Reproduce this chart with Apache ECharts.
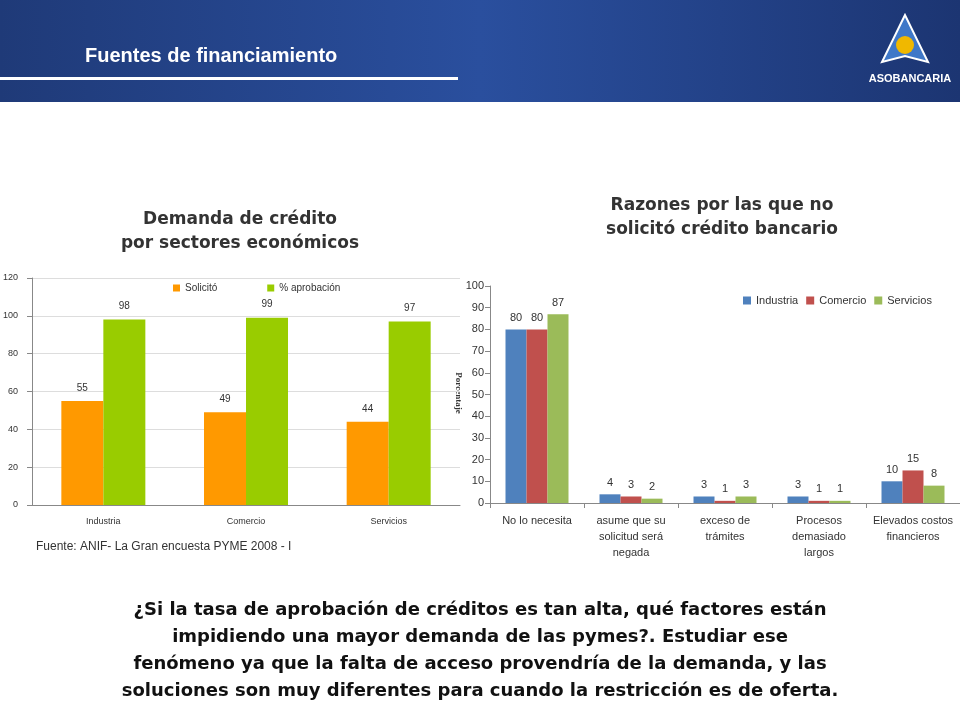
<html>
<head>
<meta charset="utf-8">
<script src="https://cdn.jsdelivr.net/npm/echarts@6/dist/echarts.min.js"></script>
<style>body{margin:0}</style>
</head>
<body>
<div id="main" style="width:960px;height:720px;"></div>
<script>
var sectores = ['Industria', 'Comercio', 'Servicios'];
var solicito = [55, 49, 44];
var aprobacion = [98, 99, 97];

var razones = ['No lo necesita', 'asume que su\nsolicitud será\nnegada', 'exceso de\ntrámites', 'Procesos\ndemasiado\nlargos', 'Elevados costos\nfinancieros'];
var industria = [80, 4, 3, 3, 10];
var comercio = [80, 3, 1, 1, 15];
var servicios = [87, 2, 3, 1, 8];

var chart = echarts.init(document.getElementById('main'));
var lbl = {show: true, position: 'top', fontSize: 10, color: '#333', distance: 8};
var lbl2 = {show: true, position: 'top', fontSize: 11, color: '#333', distance: 6};
function txt(x, y, s, opt) {
  var st = Object.assign({x: x, y: y, text: s, fill: '#333', fontFamily: 'DejaVu Sans', fontSize: 17, fontWeight: 'bold', align: 'center', verticalAlign: 'top'}, opt || {});
  return {type: 'text', style: st};
}
var option = {
  backgroundColor: '#fff',
  animation: false,
  textStyle: {fontFamily: 'Arial'},
  graphic: [
    {type: 'rect', shape: {x: 0, y: 0, width: 960, height: 102}, z: -1,
     style: {fill: {type: 'linear', x: 0, y: 0, x2: 1, y2: 0, colorStops: [
       {offset: 0, color: '#1f3a78'}, {offset: 0.5, color: '#2a4f9e'}, {offset: 1, color: '#1c3572'}]}}},
    {type: 'rect', shape: {x: 0, y: 77, width: 458, height: 3}, style: {fill: '#fff'}},
    txt(85, 46, 'Fuentes de financiamiento', {fill: '#fff', fontFamily: 'Liberation Sans', fontSize: 20, align: 'left'}),
    {type: 'polygon', shape: {points: [[905, 15], [882, 62], [905, 56], [928, 62]]}, style: {fill: '#3f78c8', stroke: '#fff', lineWidth: 2}},
    {type: 'circle', shape: {cx: 905, cy: 45, r: 9}, style: {fill: '#f0b800'}},
    txt(910, 73, 'ASOBANCARIA', {fill: '#fff', fontFamily: 'Liberation Sans', fontSize: 11}),
    txt(240, 208, 'Demanda de crédito\npor sectores económicos', {lineHeight: 24}),
    txt(722, 194, 'Razones por las que no\nsolicitó crédito bancario', {lineHeight: 24}),
    txt(36, 541, 'Fuente: ANIF- La Gran encuesta PYME 2008 - I', {fontFamily: 'Arial', fontSize: 12, fontWeight: 'normal', align: 'left'}),
    txt(480, 597, '¿Si la tasa de aprobación de créditos es tan alta, qué factores están\nimpidiendo una mayor demanda de las pymes?. Estudiar ese\nfenómeno ya que la falta de acceso provendría de la demanda, y las\nsoluciones son muy diferentes para cuando la restricción es de oferta.', {fill: '#111', fontSize: 18, lineHeight: 27}),
    {type: 'text', x: 458, y: 393, rotation: -Math.PI / 2, style: {text: 'Porcentaje', fill: '#333', fontFamily: 'Liberation Serif', fontWeight: 'bold', fontSize: 9, align: 'center', verticalAlign: 'middle'}}
  ],
  legend: [
    {left: 168, top: 278, icon: 'rect', itemWidth: 7, itemHeight: 7, itemGap: 50, textStyle: {fontSize: 10, color: '#333'},
     data: ['Solicitó', '% aprobación']},
    {left: 738, top: 290, icon: 'rect', itemWidth: 8, itemHeight: 8, itemGap: 8, textStyle: {fontSize: 11, color: '#333'},
     data: ['Industria', 'Comercio', 'Servicios']}
  ],
  grid: [
    {left: 28, top: 278, width: 432, height: 227},
    {left: 490, top: 286, width: 470, height: 217}
  ],
  xAxis: [
    {gridIndex: 0, type: 'category', data: sectores, axisTick: {show: false},
     axisLine: {lineStyle: {color: '#888'}}, axisLabel: {fontSize: 9, color: '#333', margin: 12}},
    {gridIndex: 1, type: 'category', data: razones, axisTick: {show: true, lineStyle: {color: '#888'}},
     axisLine: {lineStyle: {color: '#888'}}, axisLabel: {fontSize: 11, color: '#333', margin: 10, interval: 0, lineHeight: 16}}
  ],
  yAxis: [
    {gridIndex: 0, type: 'value', min: 0, max: 120, interval: 20, axisLine: {show: true, lineStyle: {color: '#888'}},
     axisTick: {show: true}, splitLine: {lineStyle: {color: '#ddd'}},
     axisLabel: {fontSize: 9, color: '#333', margin: 14}},
    {gridIndex: 1, type: 'value', min: 0, max: 100, interval: 10, axisLine: {show: true, lineStyle: {color: '#888'}},
     axisTick: {show: true}, splitLine: {show: false}, axisLabel: {fontSize: 11, color: '#333', margin: 6}}
  ],
  series: [
    {name: 'Solicitó', type: 'bar', xAxisIndex: 0, yAxisIndex: 0, data: solicito, itemStyle: {color: '#ff9900'}, barWidth: 42, barGap: '0%', label: lbl},
    {name: '% aprobación', type: 'bar', xAxisIndex: 0, yAxisIndex: 0, data: aprobacion, itemStyle: {color: '#99cc00'}, barWidth: 42, label: lbl},
    {name: 'Industria', type: 'bar', xAxisIndex: 1, yAxisIndex: 1, data: industria, itemStyle: {color: '#4f81bd'}, barWidth: 21, barGap: '0%', label: lbl2},
    {name: 'Comercio', type: 'bar', xAxisIndex: 1, yAxisIndex: 1, data: comercio, itemStyle: {color: '#c0504d'}, barWidth: 21, label: lbl2},
    {name: 'Servicios', type: 'bar', xAxisIndex: 1, yAxisIndex: 1, data: servicios, itemStyle: {color: '#9bbb59'}, barWidth: 21, label: lbl2}
  ]
};
chart.setOption(option);
</script>
</body>
</html>
